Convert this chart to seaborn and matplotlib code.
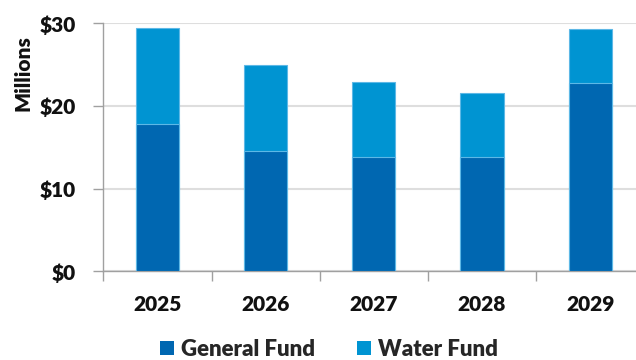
import matplotlib
matplotlib.use("Agg")
import matplotlib.pyplot as plt
import seaborn as sns
import pandas as pd
from matplotlib.patches import Patch

years = ["2025", "2026", "2027", "2028", "2029"]
general_fund = [17.8, 14.5, 13.8, 13.8, 22.8]
water_fund = [11.6, 10.4, 9.1, 7.8, 6.5]
y_ticks = [0, 10, 20, 30]
y_tick_labels = ["$0", "$10", "$20", "$30"]

dark = "#0067B1"
light = "#0094D2"
edge = "#5DB8E6"
W = 800

sns.set_theme(style="white")
plt.rcParams["font.family"] = ["Lato", "DejaVu Sans"]
plt.rcParams["font.weight"] = W

df = pd.DataFrame({"year": years, "general": general_fund, "water": water_fund})
df["total"] = df["general"] + df["water"]

fig = plt.figure(figsize=(6.36, 3.60), dpi=100)
ax = fig.add_axes([103.3 / 636, 1 - 271.3 / 360, (644.3 - 103.3) / 636, (271.3 - 23.3) / 360])

sns.barplot(data=df, x="year", y="total", color=light, width=0.4, ax=ax,
            saturation=1, edgecolor=edge, linewidth=0.8, zorder=3)
sns.barplot(data=df, x="year", y="general", color=dark, width=0.4, ax=ax,
            saturation=1, edgecolor=edge, linewidth=0.8, zorder=4)

ax.set_xlim(-0.5, 4.5)
ax.set_ylim(0, 30)
ax.set_yticks(y_ticks)
ax.set_yticklabels(y_tick_labels, fontsize=15, fontweight=W, color="#111111")
ax.set_xticks(range(len(years)))
ax.set_xticklabels(years, fontsize=15, fontweight=W, color="#111111")
ax.set_xticks([i - 0.5 for i in range(len(years) + 1)], minor=True)
ax.tick_params(axis="x", which="major", length=0, pad=17, bottom=True)
ax.tick_params(axis="x", which="minor", length=7, width=1, color="#a0a0a0",
               direction="out", bottom=True)
ax.tick_params(axis="y", length=7, width=1, color="#a0a0a0", direction="out",
               pad=13, left=True)
ax.yaxis.grid(True, color="#dedede", linewidth=1.5, zorder=0)
ax.set_axisbelow(True)
for s in ["top", "right"]:
    ax.spines[s].set_visible(False)
for s in ["left", "bottom"]:
    ax.spines[s].set_color("#a0a0a0")
    ax.spines[s].set_linewidth(1)
ax.set_xlabel("")
ax.set_ylabel("Millions", fontsize=15, fontweight=W, color="#111111")
ax.yaxis.set_label_coords(-0.13, 0.80)

handles = [Patch(facecolor=dark, edgecolor="none", label="General Fund"),
           Patch(facecolor=light, edgecolor="none", label="Water Fund")]
fig.legend(handles=handles, loc="lower center", bbox_to_anchor=(0.517, -0.055), ncol=2,
           frameon=False, handlelength=0.65, handleheight=0.65, handletextpad=0.3,
           columnspacing=1.9, prop={"size": 16, "weight": W})

fig.savefig("out.png", dpi=100)
